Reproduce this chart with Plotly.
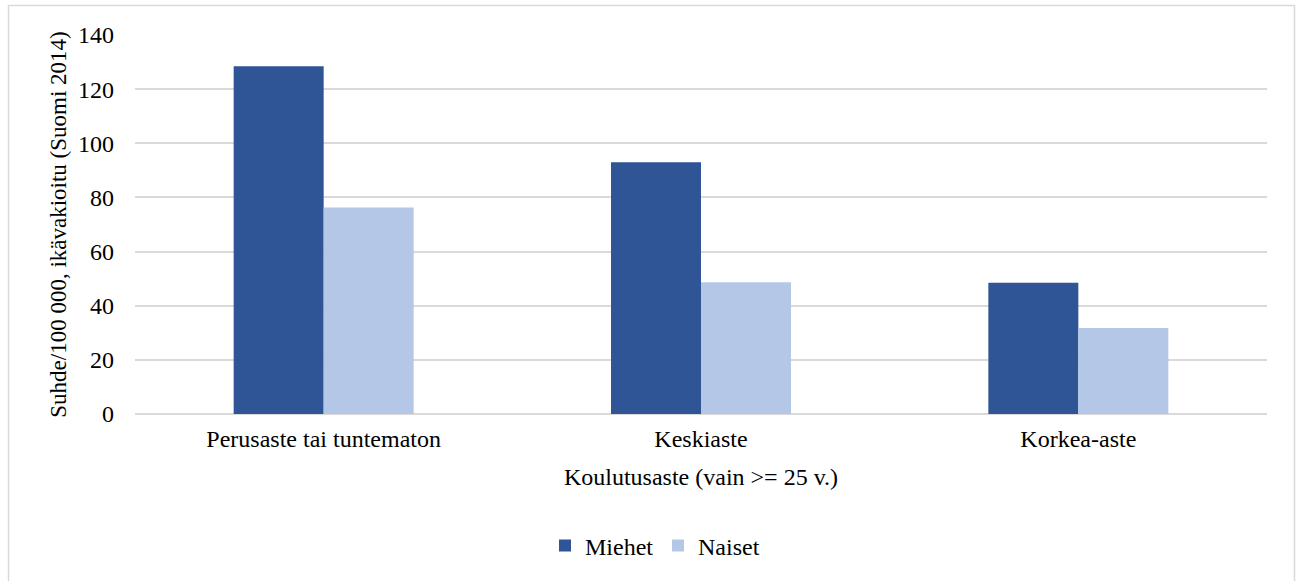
import plotly.graph_objects as go

# Education level categories and age-standardised rates per 100 000
categories = ["Perusaste tai tuntematon", "Keskiaste", "Korkea-aste"]
miehet = [128.5, 93.0, 48.5]
naiset = [76.3, 48.7, 31.8]
y_ticks = [0, 20, 40, 60, 80, 100, 120, 140]

FONT = "Liberation Serif"
FS = 24

fig = go.Figure()
fig.add_trace(go.Bar(name="Miehet", x=categories, y=miehet,
                     marker=dict(color="#2F5597", line=dict(width=0))))
fig.add_trace(go.Bar(name="Naiset", x=categories, y=naiset,
                     marker=dict(color="#B4C7E7", line=dict(width=0))))

W, H = 1296, 581
L, R, T, B = 135, 29, 35, 167
pw, ph = W - L - R, H - T - B

def px_to_paper_x(px):
    return (px - L) / pw

def px_to_paper_y(py):
    return (H - B - py) / ph

fig.update_layout(
    width=W, height=H,
    margin=dict(l=L, r=R, t=T, b=B),
    paper_bgcolor="white", plot_bgcolor="white",
    font=dict(family=FONT, size=FS, color="#000000"),
    barmode="group", bargap=0.523, bargroupgap=0,
    showlegend=True,
    legend=dict(orientation="h", x=px_to_paper_x(545), xanchor="left",
                y=px_to_paper_y(546), yanchor="middle",
                font=dict(family=FONT, size=FS),
                entrywidth=68, entrywidthmode="pixels",
                tracegroupgap=0),
    xaxis=dict(showgrid=False, showline=False, ticks="",
               ticklabelstandoff=8,
               tickfont=dict(family=FONT, size=FS),
               title=dict(text="Koulutusaste (vain >= 25 v.)", standoff=17,
                          font=dict(family=FONT, size=FS))),
    yaxis=dict(range=[0, 140], tickvals=y_ticks, showgrid=True,
               gridcolor="#D9D9D9", gridwidth=1.5,
               zeroline=True, zerolinecolor="#D9D9D9", zerolinewidth=1.5,
               showline=False, ticks="", ticklabelstandoff=20,
               tickfont=dict(family=FONT, size=FS),
               title=dict(text="Suhde/100 000, ikävakioitu (Suomi 2014)",
                          standoff=4, font=dict(family=FONT, size=23))),
    shapes=[dict(type="rect", xref="paper", yref="paper",
                 x0=px_to_paper_x(8.5), x1=px_to_paper_x(1294.5),
                 y0=px_to_paper_y(600), y1=px_to_paper_y(5.5),
                 line=dict(color="#D9D9D9", width=1.5), layer="below")],
)

fig.write_html("out.html")
